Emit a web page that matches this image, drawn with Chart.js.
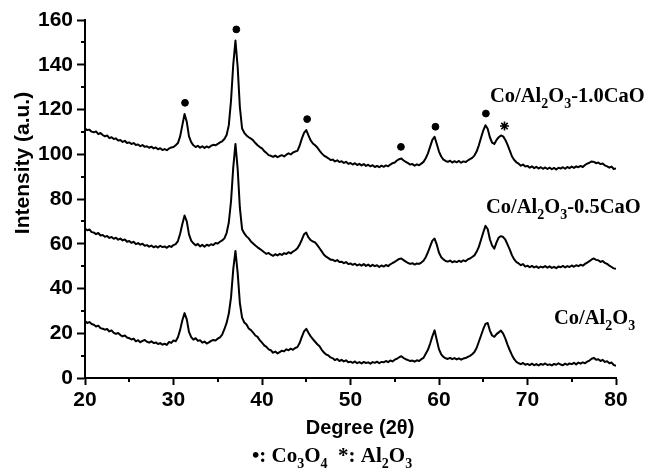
<!DOCTYPE html>
<html>
<head>
<meta charset="utf-8">
<script src="https://cdn.jsdelivr.net/npm/chart.js@4.4.0/dist/chart.umd.min.js"></script>
<style>
  body { margin: 0; background: #fff; }
  canvas { display: block; }
</style>
</head>
<body>
<canvas id="xrd" width="651" height="469"></canvas>
<script>
// 2theta grid, 0.25 deg steps from 20 to 80
const twoTheta = [];
for (let i = 0; i <= 240; i++) twoTheta.push(20 + i * 0.25);

// Co/Al2O3 (bottom pattern)
const coAl = [
  25.5, 24.6, 25.0, 24.1,  23.8, 23.0, 23.4, 22.3,  22.0, 21.6, 21.9, 20.8,
  21.3, 20.2, 19.7, 20.1,  19.2, 18.6, 19.0, 18.1,  17.8, 17.2, 17.6, 16.4,
  16.9, 16.0, 16.6, 17.0,  16.2, 15.8, 16.4, 15.6,  15.9, 15.2, 15.6, 14.9,
  15.3, 14.8, 16.1, 15.7,  16.8, 16.4, 18.2, 21.5,  25.8, 29.0, 26.2, 20.6,
  18.3, 17.1, 17.8, 16.6,  16.9, 15.8, 16.3, 15.4,  15.9, 16.6, 17.0, 16.8,
  17.6, 18.2, 19.4, 21.8,  24.6, 28.8, 36.0, 48.5,  56.8, 47.0, 33.5, 27.0,
  24.8, 23.9, 22.1, 21.4,  20.3, 19.0, 18.4, 16.9,  15.8, 14.6, 13.9, 12.8,
  12.4, 11.3, 11.8, 11.0,  11.6, 12.2, 11.9, 12.8,  12.4, 13.1, 12.6, 13.4,
  13.8, 15.6, 18.4, 20.8,  22.0, 20.2, 18.6, 17.4,  16.2, 15.1, 14.2, 12.6,
  11.4, 10.5, 10.1, 9.2,   8.8, 8.0, 8.5, 7.6,      8.1, 7.4, 7.9, 7.0,
  7.3, 6.8, 7.4, 6.6,      7.1, 6.5, 7.2, 6.7,      7.0, 6.4, 7.1, 6.8,
  7.3, 6.6, 7.2, 7.0,      7.6, 7.1, 7.8, 7.4,      8.2, 8.6, 9.3, 9.7,
  8.9, 8.4, 8.0, 7.6,      7.8, 7.3, 7.9, 7.6,      8.4, 9.0, 10.8, 12.6,
  15.4, 18.6, 21.3, 17.0,  12.8, 10.6, 9.4, 8.8,    8.5, 9.0, 8.4, 8.9,
  8.3, 8.8, 8.2, 8.7,      8.9, 9.4, 9.9, 10.6,     11.6, 13.4, 16.2, 19.0,
  21.8, 24.2, 24.6, 21.2,  19.0, 18.4, 19.6, 20.4,  21.2, 19.8, 17.6, 14.8,
  12.4, 10.2, 8.4, 7.2,    6.6, 6.2, 6.7, 5.9,      6.3, 5.8, 6.4, 5.7,
  6.2, 5.6, 6.3, 5.9,      6.5, 5.8, 6.1, 5.6,      6.3, 5.9, 6.6, 6.0,
  5.7, 6.4, 5.9, 6.5,      6.2, 6.8, 6.1, 6.9,      6.4, 7.0, 6.6, 7.3,
  7.8, 8.6, 9.0, 8.2,      8.4, 7.6, 8.1, 7.2,      7.5, 6.6, 6.9, 5.8,
  5.5
];

// Co/Al2O3-0.5CaO (middle pattern)
const coAlCa05 = [
  66.8, 66.0, 66.4, 65.2,  65.0, 64.3, 64.8, 63.7,  63.9, 63.1, 63.5, 62.6,
  63.0, 62.2, 62.7, 61.8,  62.3, 61.5, 61.9, 60.9,  61.2, 60.4, 60.9, 59.8,
  60.3, 59.6, 60.0, 59.1,  59.4, 58.7, 59.2, 58.4,  58.9, 58.3, 59.1, 58.5,
  58.8, 58.2, 59.0, 58.6,  59.4, 59.8, 61.2, 64.5,  68.8, 72.6, 70.0, 64.2,
  61.4, 60.2, 59.3, 59.9,  58.8, 59.5, 58.7, 59.6,  59.1, 59.8, 59.4, 60.3,
  60.1, 60.9, 61.5, 62.4,  64.8, 69.5, 79.0, 94.0,  104.6, 93.5, 76.0, 66.5,
  64.6, 63.3, 62.4, 61.0,  60.1, 59.2, 58.4, 57.7,  57.0, 56.2, 55.5, 55.9,
  55.1, 54.6, 55.3, 54.8,  55.5, 55.0, 55.8, 55.4,  56.2, 55.7, 56.5, 57.1,
  58.0, 59.6, 61.8, 64.2,  65.0, 62.8, 61.6, 61.0,  60.6, 59.4, 58.0, 56.6,
  55.1, 54.2, 53.6, 52.9,  52.8, 52.2, 52.7, 51.8,  52.0, 51.3, 51.8, 50.9,
  51.2, 50.6, 51.1, 50.3,  50.8, 50.2, 50.9, 50.1,  50.7, 49.9, 50.6, 50.0,
  50.4, 49.6, 50.3, 49.8,  50.5, 50.0, 50.8, 51.4,  51.9, 52.6, 53.2, 53.4,
  52.7, 52.0, 51.4, 51.0,  51.3, 50.7, 51.2, 51.0,  51.6, 52.4, 54.0, 56.2,
  58.8, 61.4, 62.3, 59.6,  56.0, 54.0, 53.0, 52.3,  52.0, 52.5, 51.7, 52.2,
  51.8, 52.4, 51.9, 52.6,  52.2, 53.0, 53.4, 54.1,  54.8, 56.4, 58.6, 61.8,
  65.0, 68.0, 66.6, 62.0,  59.2, 57.8, 60.6, 62.8,  63.4, 63.0, 61.8, 59.6,
  57.4, 54.8, 53.0, 51.8,  51.2, 50.4, 50.9, 49.8,  50.2, 49.5, 50.1, 49.4,
  49.9, 49.2, 49.8, 49.4,  50.0, 49.3, 49.9, 49.2,  49.7, 49.1, 49.8, 49.5,
  50.1, 49.4, 50.0, 49.6,  50.3, 49.7, 50.4, 50.0,  50.6, 50.2, 51.0, 51.6,
  52.2, 53.0, 53.4, 52.8,  52.6, 51.9, 52.3, 51.4,  51.0, 50.2, 49.6, 49.0,
  48.8
];

// Co/Al2O3-1.0CaO (top pattern)
const coAlCa10 = [
  111.5, 110.8, 111.0, 110.1,  109.8, 110.2, 109.0, 109.5,  108.6, 108.0, 108.4, 107.2,
  107.6, 106.8, 107.1, 106.1,  106.4, 105.5, 106.0, 105.0,  105.3, 104.6, 105.0, 104.1,
  104.4, 103.6, 104.1, 103.3,  103.6, 102.9, 103.4, 102.6,  103.0, 102.2, 102.7, 101.9,
  102.3, 101.8, 102.6, 103.0,  103.2, 104.0, 105.0, 108.0,  113.0, 118.0, 114.5, 108.0,
  105.4, 104.0, 103.2, 103.8,  102.9, 103.6, 102.8, 103.5,  103.0, 103.8, 104.2, 104.0,
  104.6, 105.3, 105.8, 106.8,  108.6, 113.0, 124.0, 140.0,  150.8, 139.0, 121.0, 111.5,
  109.6, 108.4, 107.6, 107.0,  106.2, 105.0, 104.0, 103.2,  102.6, 101.4, 100.6, 99.6,
  99.3, 98.8, 99.4, 98.7,      99.2, 99.6, 99.0, 99.8,      100.4, 99.9, 100.8, 101.2,
  101.5, 103.8, 107.0, 109.6,  110.8, 108.4, 106.2, 104.8,  104.0, 103.0, 101.6, 100.4,
  99.4, 98.8, 98.2, 97.4,      97.6, 96.8, 97.3, 96.5,      96.9, 96.1, 96.6, 95.7,
  96.1, 95.4, 96.0, 95.2,      95.7, 95.0, 95.6, 94.8,      95.3, 94.6, 95.1, 94.3,
  94.8, 94.2, 94.9, 94.4,      95.0, 94.6, 95.4, 96.0,      96.3, 97.2, 97.8, 98.1,
  97.2, 96.6, 96.0, 95.4,      95.6, 94.9, 95.5, 95.1,      95.8, 96.6, 98.2, 100.4,
  103.4, 106.4, 107.8, 104.6,  101.2, 99.0, 97.6, 97.0,     96.6, 97.1, 96.3, 96.9,
  96.4, 97.0, 96.2, 96.8,      96.5, 97.2, 97.8, 98.4,      99.4, 101.2, 104.0, 107.4,
  110.6, 113.0, 111.4, 107.6,  105.2, 104.6, 106.4, 107.6,  108.4, 108.0, 106.4, 104.2,
  101.6, 99.0, 97.4, 96.4,     95.8, 94.9, 95.4, 94.5,      94.8, 94.0, 94.6, 93.8,
  94.4, 93.6, 94.2, 93.5,      94.1, 93.4, 94.0, 93.3,      93.9, 93.2, 94.0, 93.6,
  94.2, 93.5, 94.3, 93.8,      94.5, 93.9, 94.6, 94.2,      94.8, 94.3, 95.2, 95.8,
  96.2, 96.8, 96.6, 96.0,      96.3, 95.6, 95.9, 95.0,      94.6, 94.0, 94.5, 93.4,
  93.6
];

// phase marks above the peaks of the top pattern
const co3o4Marks = [[31.3, 123], [37.1, 155.8], [45.1, 115.7], [55.7, 103.3], [59.6, 112.3], [65.3, 118.2]];
const al2o3Marks = [[67.4, 112.6]];

const xTicks = [20, 30, 40, 50, 60, 70, 80];
const yTicks = [0, 20, 40, 60, 80, 100, 120, 140, 160];

const toPts = arr => twoTheta.map((t, i) => ({ x: t, y: arr[i] }));
const markPts = arr => arr.map(m => ({ x: m[0], y: m[1] }));

const SERIF = '"Liberation Serif", "Times New Roman", serif';
const SANS = '"Liberation Sans", Arial, sans-serif';

function lineSet(arr) {
  return {
    data: toPts(arr),
    borderColor: '#000',
    borderWidth: 2,
    pointRadius: 0,
    tension: 0,
    borderJoinStyle: 'round',
    fill: false
  };
}

// text with subscripts: parts = [[text, isSub], ...]
function drawSub(ctx, parts, x, y, size) {
  let cx = x;
  parts.forEach(p => {
    const sub = p[1];
    ctx.font = 'bold ' + (sub ? Math.round(size * 0.68) : size) + 'px ' + SERIF;
    ctx.fillText(p[0], cx, sub ? y + size * 0.28 : y);
    cx += ctx.measureText(p[0]).width;
  });
}

const decor = {
  id: 'decor',
  afterDraw(chart) {
    const ctx = chart.ctx;
    const xs = chart.scales.x, ys = chart.scales.y;
    const area = chart.chartArea;
    ctx.save();
    ctx.strokeStyle = '#000';
    ctx.fillStyle = '#000';
    ctx.lineWidth = 2;
    // minor ticks
    for (let v = 25; v < 80; v += 10) {
      const px = Math.round(xs.getPixelForValue(v));
      ctx.beginPath(); ctx.moveTo(px, area.bottom); ctx.lineTo(px, area.bottom + 4); ctx.stroke();
    }
    for (let v = 10; v < 160; v += 20) {
      const py = Math.round(ys.getPixelForValue(v));
      ctx.beginPath(); ctx.moveTo(area.left - 4, py); ctx.lineTo(area.left, py); ctx.stroke();
    }
    ctx.textBaseline = 'alphabetic';
    ctx.textAlign = 'left';
    drawSub(ctx, [['Co/Al', 0], ['2', 1], ['O', 0], ['3', 1], ['-1.0CaO', 0]], 490, 102, 20.5);
    drawSub(ctx, [['Co/Al', 0], ['2', 1], ['O', 0], ['3', 1], ['-0.5CaO', 0]], 486, 213, 20.5);
    drawSub(ctx, [['Co/Al', 0], ['2', 1], ['O', 0], ['3', 1]], 554, 324, 20.5);
    drawSub(ctx, [['\u2022: Co', 0], ['3', 1], ['O', 0], ['4', 1], ['  *: Al', 0], ['2', 1], ['O', 0], ['3', 1]], 252, 462, 21);
    // axis titles
    ctx.font = 'bold 20px ' + SANS;
    ctx.textAlign = 'center';
    ctx.fillText('Degree (2\u03b8)', 360, 434);
    ctx.translate(29, 163);
    ctx.rotate(-Math.PI / 2);
    ctx.font = 'bold 21px ' + SANS;
    ctx.fillText('Intensity (a.u.)', 0, 0);
    ctx.restore();
  }
};

new Chart(document.getElementById('xrd'), {
  type: 'line',
  data: {
    datasets: [
      lineSet(coAl),
      lineSet(coAlCa05),
      lineSet(coAlCa10),
      { type: 'scatter', data: markPts(co3o4Marks), pointRadius: 3.4, pointBackgroundColor: '#000', pointBorderColor: '#000', showLine: false },
      { type: 'scatter', data: markPts(al2o3Marks), pointStyle: 'star', pointRadius: 4.5, pointBorderWidth: 1.6, pointBorderColor: '#000', showLine: false }
    ]
  },
  options: {
    responsive: false,
    animation: false,
    layout: { padding: { left: 0, right: 35, top: 20, bottom: 0 } },
    plugins: { legend: { display: false }, tooltip: { enabled: false } },
    scales: {
      x: {
        type: 'linear',
        min: 20, max: 80,
        afterBuildTicks: s => { s.ticks = xTicks.map(v => ({ value: v })); },
        afterFit: s => { s.height = 91; },
        grid: { drawOnChartArea: false, tickLength: 7, tickWidth: 2, tickColor: '#000' },
        border: { color: '#000', width: 2 },
        ticks: { color: '#000', padding: 3, font: { family: SANS, size: 21, weight: 'bold' } }
      },
      y: {
        min: 0, max: 160,
        afterBuildTicks: s => { s.ticks = yTicks.map(v => ({ value: v })); },
        afterFit: s => { s.width = 85; },
        grid: { drawOnChartArea: false, tickLength: 8, tickWidth: 2, tickColor: '#000' },
        border: { color: '#000', width: 2 },
        ticks: { color: '#000', padding: 4, font: { family: SANS, size: 21, weight: 'bold' } }
      }
    }
  },
  plugins: [decor]
});
</script>
</body>
</html>
